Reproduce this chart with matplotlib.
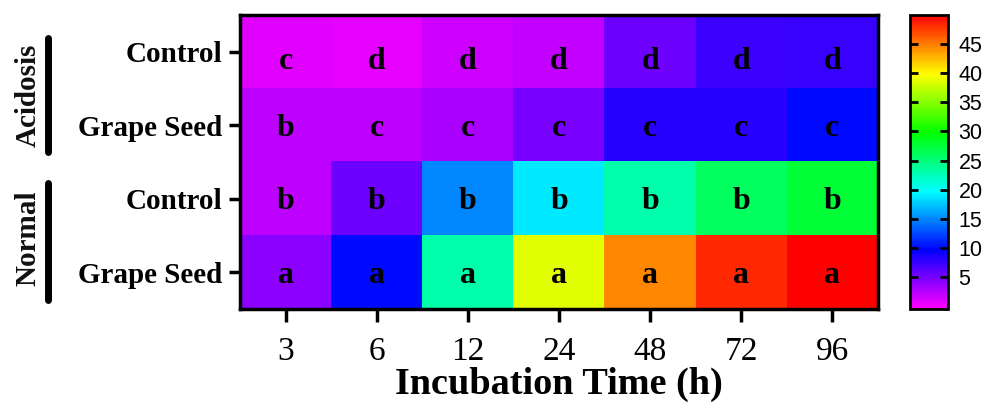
import numpy as np
import matplotlib
matplotlib.use("Agg")
import matplotlib.pyplot as plt
from matplotlib.colors import LinearSegmentedColormap

times = ["3", "6", "12", "24", "48", "72", "96"]
rows = ["Control", "Grape Seed", "Control", "Grape Seed"]
groups = ["Acidosis", "Normal"]

# values (rows top -> bottom)
acid_control = [0.8, 0.5, 1.5, 2.0, 5.3, 7.3, 7.5]
acid_grape = [2.2, 2.2, 3.0, 5.0, 8.0, 8.0, 10.0]
norm_control = [2.2, 5.3, 15.0, 19.0, 23.0, 26.0, 27.6]
norm_grape = [4.1, 10.0, 23.0, 38.6, 44.5, 48.4, 50.0]

letters = [
    ["c", "d", "d", "d", "d", "d", "d"],
    ["b", "c", "c", "c", "c", "c", "c"],
    ["b", "b", "b", "b", "b", "b", "b"],
    ["a", "a", "a", "a", "a", "a", "a"],
]

data = np.array([acid_control, acid_grape, norm_control, norm_grape])

cmap = LinearSegmentedColormap.from_list(
    "rb", ["#ff00ff", "#0000ff", "#00ffff", "#00ff00", "#ffff00", "#ff0000"])

serif = "Liberation Serif"
plt.rcParams["font.family"] = "Liberation Sans"

fig = plt.figure(figsize=(9.87, 4.05), dpi=100)
ax = fig.add_axes([0.2432, 0.237, 0.6464, 0.726])
cax = fig.add_axes([0.922, 0.237, 0.038, 0.726])

im = ax.imshow(data, cmap=cmap, vmin=-0.5, vmax=50, aspect="auto")

row_shift = [0.13, 0.04, 0.04, 0.04]
for i in range(data.shape[0]):
    for j in range(data.shape[1]):
        ax.text(j, i + row_shift[i], letters[i][j], ha="center", va="center",
                fontsize=23, fontweight="bold", family=serif)

ax.set_xticks(np.arange(len(times)))
ax.set_xticklabels(times, family=serif, fontsize=24)
ax.set_yticks(np.arange(len(rows)))
ax.set_yticklabels(rows, family=serif, fontsize=21, fontweight="bold")
ax.tick_params(axis="x", length=9, width=2.5, pad=11)
ax.tick_params(axis="y", length=8, width=2.5, pad=5)
ax.set_xlabel("Incubation Time (h)", family=serif, fontsize=27.5,
              fontweight="bold", labelpad=0)
for s in ax.spines.values():
    s.set_linewidth(2.5)

# group brackets on the left
bars = [(0.922, 0.534), (0.429, 0.031)]
label_y = [0.728, 0.241]
for name, (y0, y1), ly in zip(groups, bars, label_y):
    ax.plot([-0.301, -0.301], [y0, y1], transform=ax.transAxes,
            color="black", lw=5, solid_capstyle="round", clip_on=False)
    ax.text(-0.332, ly, name, transform=ax.transAxes, rotation=90,
            ha="center", va="center", fontsize=21, fontweight="bold",
            family=serif, color="#111111")

cb = fig.colorbar(im, cax=cax, ticks=[5, 10, 15, 20, 25, 30, 35, 40, 45])
cb.outline.set_linewidth(2)
cax.tick_params(direction="in", left=True, right=True, length=6, width=2,
                labelsize=15.5, pad=8)

fig.savefig("out.png", dpi=100)
